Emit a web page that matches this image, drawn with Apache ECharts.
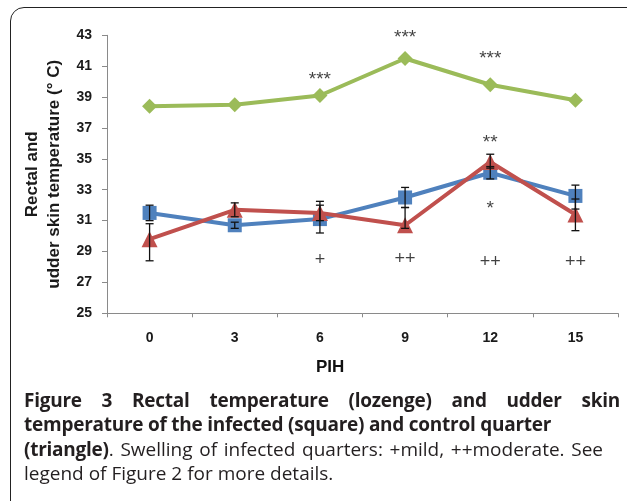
<!DOCTYPE html>
<html>
<head>
<meta charset="utf-8">
<script src="https://cdn.jsdelivr.net/npm/echarts@6/dist/echarts.min.js"></script>
<style>
  html, body { margin: 0; padding: 0; background: #fff; }
  #wrap { position: relative; width: 627px; height: 501px; overflow: hidden; }
  #chart { position: absolute; left: 0; top: 0; width: 627px; height: 501px; }
  #box { position: absolute; left: 10px; top: 7px; width: 640px; height: 520px; border: 1.5px solid #222; border-radius: 14px; box-sizing: border-box; }
  .cap { position: absolute; left: 24px; font-family: "Open Sans", sans-serif; font-size: 19px; color: #231f20; white-space: nowrap; line-height: 22px; }
  .b { font-weight: bold; letter-spacing: -0.25px; }
  .j { text-align: justify; text-align-last: justify; white-space: normal; }
  #l1 { width: 596px; }
  #l3 { width: 579px; }
</style>
</head>
<body>
<div id="wrap">
  <div id="chart"></div>
  <div id="box"></div>
  <div class="cap b j" id="l1" style="top:389px;">Figure 3 Rectal temperature (lozenge) and udder skin</div>
  <div class="cap b" style="top:413px;">temperature of the infected (square) and control quarter</div>
  <div class="cap j" id="l3" style="top:438px;"><span class="b">(triangle)</span>. Swelling of infected quarters: +mild, ++moderate. See</div>
  <div class="cap" style="top:462px;">legend of Figure 2 for more details.</div>
</div>
<script>
var categories = ['0', '3', '6', '9', '12', '15'];
var rectal   = [38.4, 38.5, 39.1, 41.5, 39.8, 38.8];
var infected = [31.5, 30.7, 31.1, 32.5, 34.1, 32.6];
var control  = [29.8, 31.7, 31.5, 30.7, 34.8, 31.4];
var infectedLow  = [31.0, 30.5, 30.2, 31.85, 33.7, 31.75];
var infectedHigh = [32.0, 30.9, 32.0, 33.15, 34.5, 33.3];
var controlLow   = [28.4, 31.25, 31.0, 30.5, 34.4, 30.35];
var controlHigh  = [30.8, 32.15, 32.25, 31.85, 35.3, 32.4];
var starMarks = [[2, 40.15, '***'], [3, 42.82, '***'], [4, 41.5, '***'], [4, 36.02, '**'], [4, 31.8, '*']];
var plusMarks = [[2, 28.45, '+'], [3, 28.49, '++'], [4, 28.34, '++'], [5, 28.34, '++']];

var errData = [];
for (var i = 0; i < categories.length; i++) {
  errData.push([i, infectedLow[i], infectedHigh[i]]);
  errData.push([i, controlLow[i], controlHigh[i]]);
}

var chart = echarts.init(document.getElementById('chart'));
var axisGrey = '#8a8a8a';
var lblFont = { color: '#1a1a1a', fontWeight: 'bold', fontSize: 14, fontFamily: 'Liberation Sans, Arial, sans-serif' };

chart.setOption({
  animation: false,
  backgroundColor: '#fff',
  grid: { left: 107, right: 9, top: 35.3, bottom: 187.7 },
  xAxis: {
    type: 'category',
    data: categories,
    boundaryGap: true,
    axisLine: { lineStyle: { color: axisGrey, width: 1 } },
    axisTick: { show: true, length: 4, lineStyle: { color: axisGrey } },
    axisLabel: Object.assign({ margin: 18 }, lblFont),
    splitLine: { show: false }
  },
  yAxis: {
    type: 'value',
    min: 25, max: 43, interval: 2,
    name: 'Rectal and\nudder skin temperature (° C)',
    nameLocation: 'middle',
    nameGap: 40,
    nameTextStyle: { color: '#1a1a1a', fontWeight: 'bold', fontSize: 17, lineHeight: 22, fontFamily: 'Liberation Sans, Arial, sans-serif' },
    axisLine: { show: true, lineStyle: { color: axisGrey, width: 1 } },
    axisTick: { show: true, length: 5, lineStyle: { color: axisGrey } },
    axisLabel: Object.assign({ margin: 15 }, lblFont),
    splitLine: { show: false }
  },
  graphic: [{
    type: 'text', left: 316, top: 359,
    style: { text: 'PIH', fill: '#111', font: 'bold 17px "Liberation Sans", Arial, sans-serif' }
  }],
  series: [
    {
      name: 'Rectal', type: 'line', data: rectal,
      symbol: 'diamond', symbolSize: 15,
      lineStyle: { color: '#9BBB59', width: 4 },
      itemStyle: { color: '#9BBB59' }, z: 2
    },
    {
      name: 'Infected', type: 'line', data: infected,
      symbol: 'rect', symbolSize: 14,
      lineStyle: { color: '#4F81BD', width: 4 },
      itemStyle: { color: '#4F81BD' }, z: 3
    },
    {
      name: 'Control', type: 'line', data: control,
      symbol: 'triangle', symbolSize: 16,
      lineStyle: { color: '#C0504D', width: 4 },
      itemStyle: { color: '#C0504D' }, z: 4
    },
    {
      type: 'custom', z: 5,
      data: errData,
      renderItem: function (params, api) {
        var x = api.value(0);
        var lo = api.coord([x, api.value(1)]);
        var hi = api.coord([x, api.value(2)]);
        var hw = 4;
        var st = { stroke: '#111', lineWidth: 1.3 };
        return {
          type: 'group',
          children: [
            { type: 'line', shape: { x1: lo[0], y1: lo[1], x2: hi[0], y2: hi[1] }, style: st },
            { type: 'line', shape: { x1: lo[0] - hw, y1: lo[1], x2: lo[0] + hw, y2: lo[1] }, style: st },
            { type: 'line', shape: { x1: hi[0] - hw, y1: hi[1], x2: hi[0] + hw, y2: hi[1] }, style: st }
          ]
        };
      }
    },
    {
      type: 'scatter', symbolSize: 0, clip: false, z: 6,
      data: starMarks,
      label: {
        show: true, position: 'inside', color: '#111', fontSize: 19,
        fontFamily: 'Liberation Sans, Arial, sans-serif',
        formatter: function (p) { return p.value[2]; }
      }
    },
    {
      type: 'scatter', symbolSize: 0, clip: false, z: 6,
      data: plusMarks,
      label: {
        show: true, position: 'inside', color: '#111', fontSize: 18,
        fontFamily: 'Liberation Sans, Arial, sans-serif',
        formatter: function (p) { return p.value[2]; }
      }
    }
  ]
});
</script>
</body>
</html>
